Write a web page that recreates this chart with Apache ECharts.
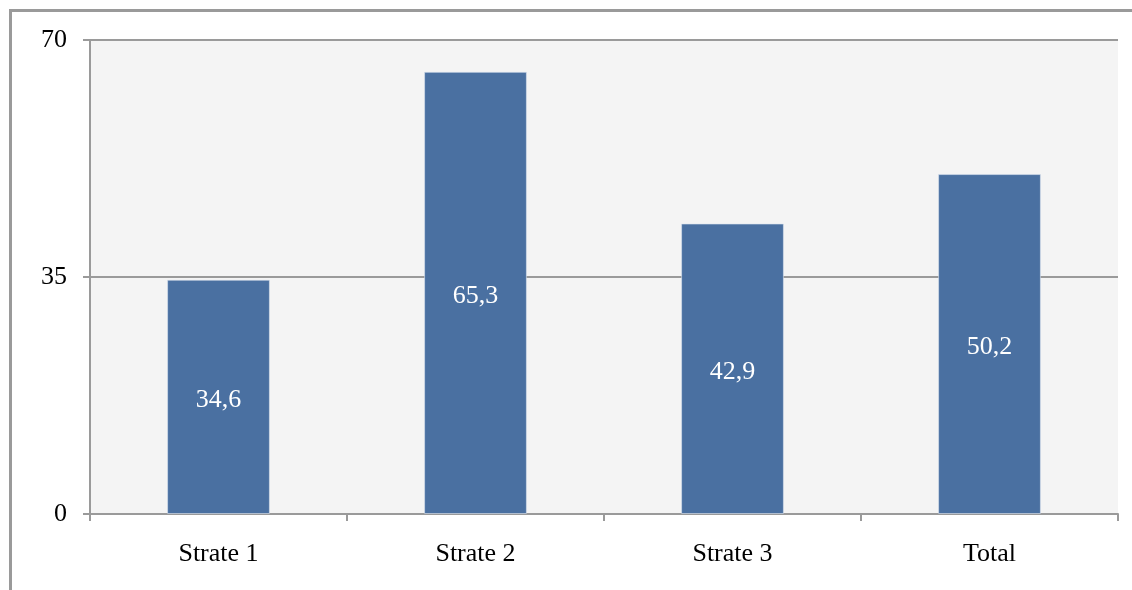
<!DOCTYPE html>
<html>
<head>
<meta charset="utf-8">
<script src="https://cdn.jsdelivr.net/npm/echarts@6/dist/echarts.min.js"></script>
<style>
  html, body { margin: 0; padding: 0; background: #ffffff; }
  #chart { width: 1132px; height: 590px; }
</style>
</head>
<body>
<div id="chart"></div>
<script>
// Categories and percentages per stratum
const categories = ['Strate 1', 'Strate 2', 'Strate 3', 'Total'];
const values = [34.6, 65.3, 42.9, 50.2];
const yTicks = [0, 35, 70];

const chart = echarts.init(document.getElementById('chart'), null, { renderer: 'canvas' });
const serif = '"Liberation Serif", "DejaVu Serif", serif';

chart.setOption({
  animation: false,
  backgroundColor: '#ffffff',
  graphic: [{
    type: 'rect',
    shape: { x: 10.5, y: 10.5, width: 1300, height: 800 },
    style: { fill: 'none', stroke: '#9a9a9a', lineWidth: 3 },
    silent: true,
    z: 100
  }],
  grid: {
    left: 90, right: 14, top: 40, bottom: 76,
    show: true, backgroundColor: '#f4f4f4', borderWidth: 0
  },
  xAxis: {
    type: 'category',
    data: categories,
    axisLine: { show: true, lineStyle: { color: '#9a9a9a', width: 2 } },
    axisTick: { show: true, length: 7, lineStyle: { color: '#9a9a9a', width: 2 } },
    axisLabel: { color: '#000000', fontFamily: serif, fontSize: 26, margin: 27 }
  },
  yAxis: {
    type: 'value',
    min: yTicks[0],
    max: yTicks[yTicks.length - 1],
    interval: yTicks[1] - yTicks[0],
    axisLine: { show: true, lineStyle: { color: '#9a9a9a', width: 2 } },
    axisTick: { show: true, length: 7, lineStyle: { color: '#9a9a9a', width: 2 } },
    splitLine: { show: true, lineStyle: { color: '#9a9a9a', width: 2 } },
    axisLabel: { color: '#000000', fontFamily: serif, fontSize: 26, margin: 23, padding: [6, 0, 0, 0] }
  },
  series: [{
    type: 'bar',
    data: values,
    barWidth: '40%',
    itemStyle: { color: '#4a70a1', borderColor: 'rgba(220,228,240,0.6)', borderWidth: 1 },
    label: {
      show: true,
      position: 'inside',
      offset: [0, 3],
      color: '#ffffff',
      fontFamily: serif,
      fontSize: 26,
      formatter: p => String(p.value).replace('.', ',')
    }
  }]
});
</script>
</body>
</html>
